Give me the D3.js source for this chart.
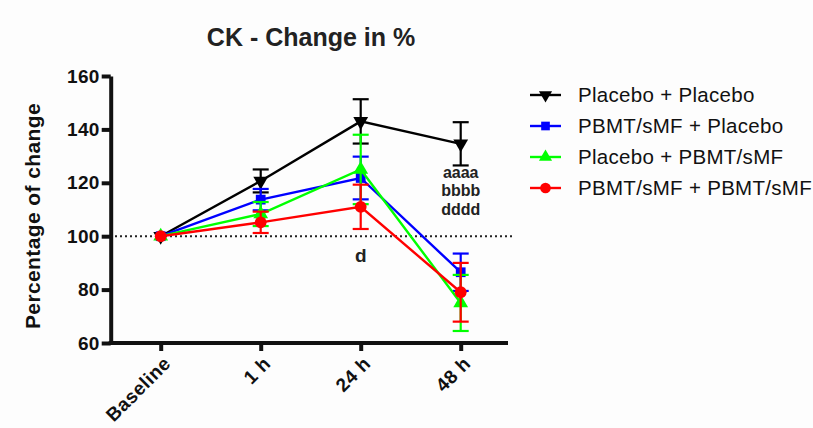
<!DOCTYPE html>
<html>
<head>
<meta charset="utf-8">
<script src="https://cdn.jsdelivr.net/npm/d3@7"></script>
<style>
  body { margin: 0; background: #fdfdfd; }
  text { font-family: "Liberation Sans", Arial, Helvetica, sans-serif; }
</style>
</head>
<body>
<div id="chart"></div>
<script>
// chart data
var timePoints = ['Baseline', '1 h', '24 h', '48 h'];
var seriesNames = ['Placebo + Placebo', 'PBMT/sMF + Placebo', 'Placebo + PBMT/sMF', 'PBMT/sMF + PBMT/sMF'];
var placeboPlacebo = [100, 120.7, 143, 134.6];
var placeboPlaceboErr = [0, 4.3, 8.3, 8.1];
var pbmtPlacebo = [100, 113.7, 121.8, 86.5];
var pbmtPlaceboErr = [0, 4, 8, 7];
var placeboPbmt = [100, 108.3, 125, 75];
var placeboPbmtErr = [0, 4.5, 13, 10.5];
var pbmtPbmt = [100, 105.2, 111, 79];
var pbmtPbmtErr = [0, 4, 8.3, 11];
var yTicks = [60, 80, 100, 120, 140, 160];
var annotations = [
    {time: '48 h', lines: ['aaaa', 'bbbb', 'dddd'], value: 121.8},
    {time: '24 h', lines: ['d'], value: 90.5}
];

var colors = ['#000000', '#0000ff', '#00ff00', '#ff0000'];
var symbols = [d3.symbolTriangle, d3.symbolSquare, d3.symbolTriangle, d3.symbolCircle];
var rotations = [180, 0, 0, 0];
var means = [placeboPlacebo, pbmtPlacebo, placeboPbmt, pbmtPbmt];
var errs = [placeboPlaceboErr, pbmtPlaceboErr, placeboPbmtErr, pbmtPbmtErr];

var width = 813;
var height = 428;

var svg = d3.select('#chart')
    .append('svg')
    .attr('width', width)
    .attr('height', height);

// scales
var x_scale = d3.scalePoint()
    .domain(timePoints)
    .range([110.7, 510.7])
    .padding(0.5);

var y_scale = d3.scaleLinear()
    .domain([60, 160])
    .range([343, 76]);

// title
svg.append('text')
    .attr('x', 311)
    .attr('y', 46)
    .attr('text-anchor', 'middle')
    .style('font-size', '25px')
    .style('font-weight', 'bold')
    .style('fill', '#222')
    .text('CK - Change in %');

// y axis label
svg.append('text')
    .attr('transform', 'translate(40,216) rotate(-90)')
    .attr('text-anchor', 'middle')
    .style('font-size', '21px')
    .style('font-weight', 'bold')
    .style('letter-spacing', '0.4px')
    .style('fill', '#111')
    .text('Percentage of change');

// dotted reference line at 100
svg.append('line')
    .attr('x1', 110)
    .attr('x2', 512)
    .attr('y1', y_scale(100))
    .attr('y2', y_scale(100))
    .attr('stroke', '#222')
    .attr('stroke-width', 2)
    .attr('stroke-dasharray', '2,3');

// axes
var y_axis = d3.axisLeft(y_scale).tickValues(yTicks).tickSize(9).tickPadding(2).tickSizeOuter(0);
var x_axis = d3.axisBottom(x_scale).tickSize(8).tickSizeOuter(0);

var yg = svg.append('g')
    .attr('transform', 'translate(110.7,0)')
    .call(y_axis);
yg.selectAll('path, line').attr('stroke', '#111').attr('stroke-width', 4);
yg.selectAll('text')
    .style('font-size', '19px')
    .style('font-weight', 'bold')
    .style('letter-spacing', '0.3px')
    .style('fill', '#111');

var xg = svg.append('g')
    .attr('transform', 'translate(0,343)')
    .call(x_axis);
xg.select('.domain').attr('d', 'M108.7,0H508');
xg.selectAll('path, line').attr('stroke', '#111').attr('stroke-width', 4);
xg.selectAll('text')
    .attr('text-anchor', 'end')
    .attr('transform', 'translate(6,17) rotate(-45)')
    .attr('dy', '0.35em')
    .attr('y', 0)
    .attr('x', 0)
    .style('font-size', '19px')
    .style('font-weight', 'bold')
    .style('letter-spacing', '0.5px')
    .style('fill', '#111');

// series
var line = d3.line()
    .x(function(d, i){ return x_scale(timePoints[i]); })
    .y(function(d){ return y_scale(d); });

var capHalf = 8;

means.forEach(function(series, s){
    var g = svg.append('g').attr('class', 'series');

    g.append('path')
        .datum(series)
        .attr('d', line)
        .attr('fill', 'none')
        .attr('stroke', colors[s])
        .attr('stroke-width', 2.4);

    var pts = series.map(function(v, i){
        return {t: timePoints[i], v: v, e: errs[s][i]};
    }).filter(function(p){ return p.e > 0; });

    // error bars
    var bars = g.selectAll('.err')
        .data(pts)
        .enter()
        .append('g')
        .attr('class', 'err');

    bars.append('line')
        .attr('x1', function(d){ return x_scale(d.t); })
        .attr('x2', function(d){ return x_scale(d.t); })
        .attr('y1', function(d){ return y_scale(d.v + d.e); })
        .attr('y2', function(d){ return y_scale(d.v - d.e); })
        .attr('stroke', colors[s])
        .attr('stroke-width', 2.2);

    [1, -1].forEach(function(sign){
        bars.append('line')
            .attr('x1', function(d){ return x_scale(d.t) - capHalf; })
            .attr('x2', function(d){ return x_scale(d.t) + capHalf; })
            .attr('y1', function(d){ return y_scale(d.v + sign * d.e); })
            .attr('y2', function(d){ return y_scale(d.v + sign * d.e); })
            .attr('stroke', colors[s])
            .attr('stroke-width', 2.2);
    });

    // markers
    g.selectAll('.marker')
        .data(series)
        .enter()
        .append('path')
        .attr('d', d3.symbol().type(symbols[s]).size(s === 3 ? 110 : 95))
        .attr('transform', function(d, i){
            return 'translate(' + x_scale(timePoints[i]) + ',' + y_scale(d) + ') rotate(' + rotations[s] + ')';
        })
        .attr('fill', colors[s]);
});

// significance letters
annotations.forEach(function(a){
    a.lines.forEach(function(t, k){
        svg.append('text')
            .attr('x', x_scale(a.time))
            .attr('y', y_scale(a.value) + k * 18.5)
            .attr('text-anchor', 'middle')
            .style('font-size', a.lines.length > 1 ? '16px' : '19px')
            .style('font-weight', 'bold')
            .style('fill', '#222')
            .text(t);
    });
});

// legend
var legend = svg.append('g').attr('transform', 'translate(530,95)');
seriesNames.forEach(function(name, s){
    var row = legend.append('g').attr('transform', 'translate(0,' + (s * 31) + ')');
    row.append('line')
        .attr('x1', 0).attr('x2', 31)
        .attr('stroke', colors[s])
        .attr('stroke-width', 2.4);
    row.append('path')
        .attr('d', d3.symbol().type(symbols[s]).size(s === 3 ? 90 : 75))
        .attr('transform', 'translate(15.5,0) rotate(' + rotations[s] + ')')
        .attr('fill', colors[s]);
    row.append('text')
        .attr('x', 48)
        .attr('y', 0)
        .attr('dy', '0.35em')
        .style('font-size', '20.5px')
        .style('letter-spacing', '0.3px')
        .style('fill', '#111')
        .text(name);
});
</script>
</body>
</html>
